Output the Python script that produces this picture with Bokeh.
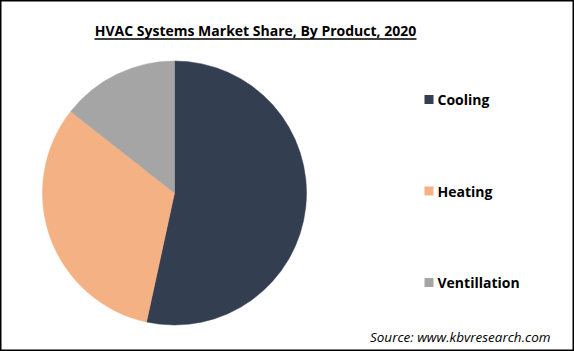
import numpy as np
from bokeh.plotting import figure
from bokeh.models import Range1d
from bokeh.core.properties import value
from bokeh.embed import file_html
from bokeh.resources import INLINE

# Data
categories = ["Cooling", "Heating", "Ventillation"]
shares = [53.4, 32.2, 14.4]
colors = ["#333F50", "#F4B183", "#A5A5A5"]
title_text = "HVAC Systems Market Share, By Product, 2020"
source_text = "Source: www.kbvresearch.com"

W, H = 574, 351
p = figure(width=W, height=H, output_backend="svg", toolbar_location=None,
           x_range=Range1d(0, W), y_range=Range1d(H, 0), min_border=0,
           tools="")
p.axis.visible = False
p.grid.visible = False
p.outline_line_color = "black"
p.outline_line_width = 2
p.background_fill_color = "white"

# Pie, clockwise from 12 o'clock
frac = np.array(shares) / np.sum(shares)
ends = np.cumsum(frac) * 2 * np.pi
starts = np.concatenate([[0], ends[:-1]])
start_angles = np.pi / 2 - starts
end_angles = np.pi / 2 - ends
cx, cy, r = 174, 192.5, 132
p.wedge(x=cx, y=cy, radius=r, radius_units="screen",
        start_angle=start_angles, end_angle=end_angles, direction="clock",
        fill_color=colors, line_color=colors, line_width=0.5)

# Title
p.text(x=[255], y=[29.5], text=[title_text], text_font=value("Open Sans"),
       text_font_size="14px", text_font_style="bold", text_color="black",
       text_align="center", text_baseline="middle")
p.segment(x0=[94], y0=[38.5], x1=[416], y1=[38.5], line_color="black", line_width=1.5)

# Legend
ly = [99, 190.5, 282]
p.scatter(x=[428.5] * 3, y=ly, marker="square", size=9, fill_color=colors, line_color=None)
p.text(x=[437] * 3, y=ly, text=categories, text_font=value("Open Sans"),
       text_font_size="14px", text_font_style="bold", text_color="black",
       text_align="left", text_baseline="middle")

# Source
p.text(x=[550], y=[336], text=[source_text], text_font=value("Open Sans"),
       text_font_size="13.5px", text_font_style="italic", text_color="black",
       text_align="right", text_baseline="middle")

open("out.html", "w").write(file_html(p, INLINE))
